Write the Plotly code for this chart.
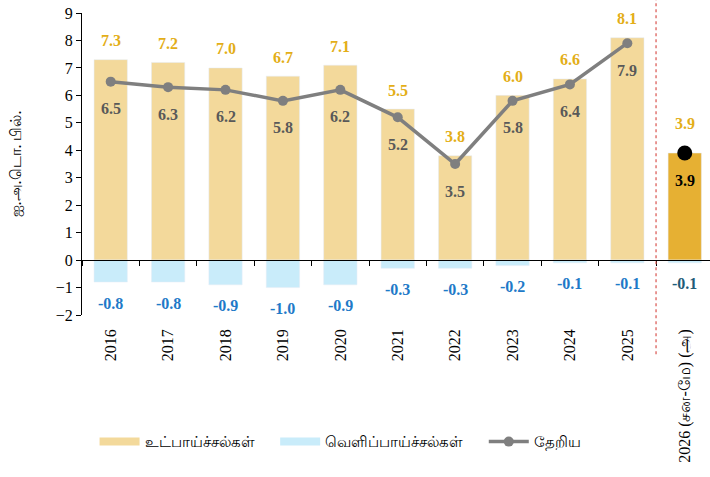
import plotly.graph_objects as go

# Years on the category axis
years = ["2016", "2017", "2018", "2019", "2020", "2021", "2022", "2023", "2024", "2025",
         "2026 (சன-மே) (அ)"]
# Inflows, outflows and net flows (US$ bn)
inflows = [7.3, 7.2, 7.0, 6.7, 7.1, 5.5, 3.8, 6.0, 6.6, 8.1, 3.9]
outflows = [-0.8, -0.8, -0.9, -1.0, -0.9, -0.3, -0.3, -0.2, -0.1, -0.1, -0.1]
net = [6.5, 6.3, 6.2, 5.8, 6.2, 5.2, 3.5, 5.8, 6.4, 7.9]
net_latest = [3.9]

# Legend names
name_in = "உட்பாய்ச்சல்கள்"
name_out = "வெளிப்பாய்ச்சல்கள்"
name_net = "தேறிய"
y_title = "ஐ.அ.டொ. பில்."

GOLD_LIGHT = "#F3D99B"
GOLD_DARK = "#E6B033"
BLUE_LIGHT = "#C9ECFA"
GREY = "#7F7F7F"
LABEL_GOLD = "#E3AE17"
LABEL_BLUE = "#1E7AC8"
LABEL_TEAL = "#1F5C78"
LABEL_GREY = "#595959"
SERIF = "Liberation Serif"
SANS = "Noto Sans, DejaVu Sans, sans-serif"

n_hist = len(net)
idx_all = list(range(len(years)))
idx_hist = idx_all[:n_hist]
idx_last = idx_all[n_hist:]

fig = go.Figure()

in_colors = [GOLD_LIGHT] * n_hist + [GOLD_DARK] * (len(years) - n_hist)
fig.add_trace(go.Bar(x=years, y=inflows, marker_color=in_colors, width=0.58,
                     name=name_in, showlegend=False))
fig.add_trace(go.Bar(x=years, y=outflows, marker_color=BLUE_LIGHT, width=0.58,
                     name=name_out, showlegend=False))
fig.add_trace(go.Scatter(x=years[:n_hist], y=net, mode="lines+markers", name=name_net,
                         line=dict(color=GREY, width=3.5),
                         marker=dict(color=GREY, size=10), showlegend=False))
fig.add_trace(go.Scatter(x=years[n_hist:], y=net_latest, mode="markers",
                         marker=dict(color="black", size=15), showlegend=False))

# Legend entries drawn as wide swatches
pad = "\u00a0" * 4
fig.add_trace(go.Scatter(x=[None], y=[None], mode="lines", name=name_in + pad,
                         line=dict(color=GOLD_LIGHT, width=8)))
fig.add_trace(go.Scatter(x=[None], y=[None], mode="lines", name=name_out + pad,
                         line=dict(color=BLUE_LIGHT, width=8)))
fig.add_trace(go.Scatter(x=[None], y=[None], mode="lines+markers", name=name_net,
                         line=dict(color=GREY, width=3.5),
                         marker=dict(color=GREY, size=10)))

# Carrier for the axis line drawn through zero
fig.add_trace(go.Scatter(x=years, y=[None] * len(years), xaxis="x2",
                         showlegend=False, hoverinfo="skip"))

annotations = []
lab_font = dict(family=SERIF, size=16)
for i, v in zip(idx_all, inflows):
    last = i >= n_hist
    annotations.append(dict(x=i, y=v, text=f"<b>{v:.1f}</b>", showarrow=False,
                            yshift=30 if last else 19,
                            font=dict(lab_font, color=LABEL_GOLD)))
for i, v in zip(idx_all, outflows):
    last = i >= n_hist
    annotations.append(dict(x=i, y=v, text=f"<b>{v:.1f}</b>", showarrow=False,
                            yshift=-21,
                            font=dict(lab_font, color=LABEL_TEAL if last else LABEL_BLUE)))
for i, v in zip(idx_hist, net):
    annotations.append(dict(x=i, y=v, text=f"<b>{v:.1f}</b>", showarrow=False,
                            yshift=-27, font=dict(lab_font, color=LABEL_GREY)))
for i, v in zip(idx_last, net_latest):
    annotations.append(dict(x=i, y=v, text=f"<b>{v:.1f}</b>", showarrow=False,
                            yshift=-27, font=dict(lab_font, color="black")))

# Separator between full years and the partial year
split = n_hist - 0.5
shapes = [dict(type="line", xref="x", yref="paper", x0=split, x1=split,
               y0=-0.13, y1=1.05, line=dict(color="#D9534F", width=1.2, dash="dot"))]

y_lo, y_hi = -2, 9

fig.update_layout(
    width=710, height=477,
    margin=dict(l=82, r=0, t=13, b=162),
    paper_bgcolor="white", plot_bgcolor="white",
    barmode="relative",
    font=dict(family=SERIF, size=16, color="black"),
    xaxis=dict(type="category", range=[-0.5, len(years) - 0.56], automargin=False,
               showline=False, ticks="", showgrid=False, zeroline=False,
               tickangle=-90, ticklabelstandoff=10,
               tickfont=dict(family=SERIF, size=16)),
    xaxis2=dict(type="category", matches="x", overlaying="x", anchor="free",
                position=(0 - y_lo) / (y_hi - y_lo), side="bottom",
                showline=True, linecolor="black", linewidth=1,
                ticks="outside", tickson="boundaries", ticklen=5, tickcolor="black",
                showticklabels=False, showgrid=False, zeroline=False),
    yaxis=dict(range=[y_lo, y_hi], dtick=1, showgrid=False, zeroline=False,
               automargin=False,
               showline=True, linecolor="black", linewidth=1,
               ticks="outside", ticklen=5, tickcolor="black",
               tickfont=dict(family=SERIF, size=16),
               title=dict(text=y_title, font=dict(family=SANS, size=15), standoff=30)),
    legend=dict(orientation="h", x=0.02, xanchor="left", y=-0.42, yanchor="middle",
                font=dict(family=SANS, size=15), itemwidth=40, tracegroupgap=0,
                bgcolor="rgba(0,0,0,0)"),
    annotations=annotations,
    shapes=shapes,
    showlegend=True,
)

fig.write_html("out.html")
